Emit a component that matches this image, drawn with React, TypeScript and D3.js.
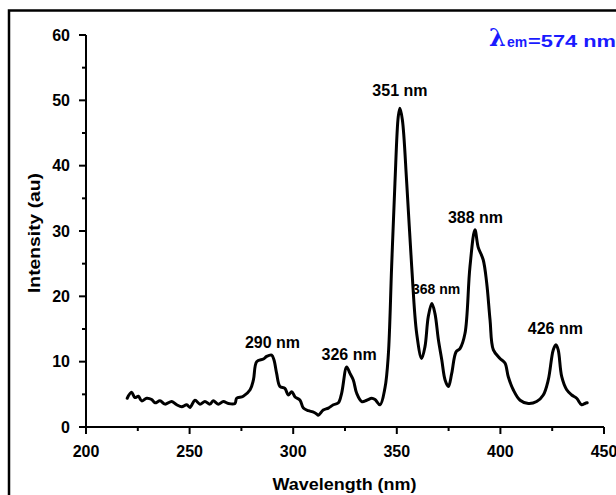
import React from "react";
import * as d3 from "d3";

const wavelength = [
  219.9, 222.0, 223.6, 225.3, 226.9, 229.3, 231.7, 233.3, 235.7, 238.1,
  241.4, 243.8, 246.2, 248.6, 250.2, 252.6, 255.0, 257.4, 259.8, 261.4,
  263.8, 266.3, 268.7, 271.9, 272.7, 275.9, 279.2, 280.8, 282.4, 285.6,
  287.2, 289.6, 290.7, 292.0, 293.6, 296.0, 297.6, 299.3, 300.9, 303.3,
  304.9, 307.3, 309.5, 311.3, 312.1, 314.5, 317.0, 319.4, 321.8, 323.4,
  325.8, 327.4, 329.0, 330.6, 333.1, 335.5, 337.9, 339.5, 341.9, 344.3,
  345.9, 347.5, 349.1, 350.7, 351.5, 352.7, 354.8, 357.2, 359.6, 362.0,
  363.6, 365.2, 366.9, 368.4, 370.1, 371.7, 373.3, 374.9, 376.5, 378.6,
  380.5, 382.9, 385.3, 387.7, 389.3, 391.7, 393.4, 395.0, 396.6, 399.8,
  402.2, 403.8, 406.2, 409.5, 413.5, 417.5, 420.7, 423.1, 425.5, 426.8,
  427.9, 429.6, 432.0, 434.4, 436.8, 439.2, 440.8, 441.9,
];

const intensity = [
  4.4, 5.3, 4.5, 4.7, 4.0, 4.4, 4.2, 3.7, 4.0, 3.5,
  3.9, 3.4, 3.1, 3.4, 3.0, 4.1, 3.5, 3.9, 3.5, 4.0,
  3.5, 3.9, 3.6, 3.6, 4.4, 4.7, 5.7, 7.2, 10.0, 10.4,
  10.8, 11.0, 10.3, 8.2, 6.2, 5.9, 4.9, 5.4, 4.6, 4.1,
  2.9, 2.5, 2.3, 2.0, 1.8, 2.6, 2.9, 3.4, 3.7, 5.2,
  9.2, 8.2, 7.2, 5.2, 3.9, 4.1, 4.4, 4.2, 3.4, 6.0,
  11.0, 24.5, 37.3, 47.5, 48.8, 47.0, 37.3, 24.5, 14.3, 10.5,
  12.3, 16.9, 18.9, 17.4, 13.3, 10.3, 7.2, 6.2, 8.2, 11.5,
  12.0, 14.3, 24.5, 30.2, 27.5, 25.6, 22.0, 16.4, 11.8, 10.5,
  9.8, 7.7, 5.7, 4.1, 3.6, 3.9, 4.9, 7.2, 11.8, 12.6,
  11.8, 7.7, 5.7, 4.9, 4.4, 3.4, 3.6, 3.7,
];

const xTicks = [200, 250, 300, 350, 400, 450];
const xMinor = [225, 275, 325, 375, 425];
const yTicks = [0, 10, 20, 30, 40, 50, 60];
const yMinor = [5, 15, 25, 35, 45, 55];

const peakLabels = ["290 nm", "326 nm", "351 nm", "368 nm", "388 nm", "426 nm"];
const peakX = [290, 327, 351.5, 369, 388, 426.5];
const peakY = [12.1, 10.3, 50.6, 20.4, 31.3, 14.2];
const peakSize = [16, 16, 16, 14, 16, 16];

const FONT = "'Liberation Sans', Arial, sans-serif";

export default function App() {
  const x = d3.scaleLinear().domain([200, 450]).range([86, 604]);
  const y = d3.scaleLinear().domain([0, 60]).range([427, 35]);
  const pts = wavelength.map((w, i) => [w, intensity[i]] as [number, number]);
  const line = d3
    .line<[number, number]>()
    .x((d) => x(d[0]))
    .y((d) => y(d[1]))
    .curve(d3.curveCatmullRom.alpha(0.5));

  return (
    <svg
      width={616}
      height={495}
      style={{ position: "absolute", left: 0, top: 0, background: "#fff" }}
    >
      <rect x={0} y={0} width={616} height={495} fill="#fff" />
      <rect x={9} y={10.5} width={650} height={520} fill="none" stroke="#000" strokeWidth={2.5} />

      {/* axes */}
      <line x1={x(200)} x2={x(450)} y1={y(0)} y2={y(0)} stroke="#000" strokeWidth={2} />
      <line x1={x(200)} x2={x(200)} y1={y(0)} y2={y(60)} stroke="#000" strokeWidth={2} />

      {xTicks.map((t) => (
        <g key={"xt" + t}>
          <line x1={x(t)} x2={x(t)} y1={y(0)} y2={y(0) + 7} stroke="#000" strokeWidth={2} />
          <text
            x={x(t)}
            y={456.5}
            textAnchor="middle"
            fontFamily={FONT}
            fontWeight="bold"
            fontSize={16}
          >
            {t}
          </text>
        </g>
      ))}
      {xMinor.map((t) => (
        <line key={"xm" + t} x1={x(t)} x2={x(t)} y1={y(0)} y2={y(0) + 4} stroke="#000" strokeWidth={2} />
      ))}
      {yTicks.map((t) => (
        <g key={"yt" + t}>
          <line x1={x(200) - 7} x2={x(200)} y1={y(t)} y2={y(t)} stroke="#000" strokeWidth={2} />
          <text
            x={70}
            y={y(t)}
            dy="0.36em"
            textAnchor="end"
            fontFamily={FONT}
            fontWeight="bold"
            fontSize={16}
          >
            {t}
          </text>
        </g>
      ))}
      {yMinor.map((t) => (
        <line key={"ym" + t} x1={x(200) - 4} x2={x(200)} y1={y(t)} y2={y(t)} stroke="#000" strokeWidth={2} />
      ))}

      {/* axis titles */}
      <text
        x={344.5}
        y={490}
        textAnchor="middle"
        fontFamily={FONT}
        fontWeight="bold"
        fontSize={16}
        textLength={144}
        lengthAdjust="spacingAndGlyphs"
      >
        Wavelength (nm)
      </text>
      <text
        transform="translate(40,233) rotate(-90)"
        textAnchor="middle"
        fontFamily={FONT}
        fontWeight="bold"
        fontSize={16}
        textLength={120}
        lengthAdjust="spacingAndGlyphs"
      >
        Intensity (au)
      </text>

      {/* spectrum */}
      <path
        d={line(pts) || ""}
        fill="none"
        stroke="#000"
        strokeWidth={3}
        strokeLinejoin="round"
        strokeLinecap="round"
      />

      {/* peak annotations */}
      {peakLabels.map((l, i) => (
        <text
          key={l}
          x={x(peakX[i])}
          y={y(peakY[i])}
          textAnchor="middle"
          fontFamily={FONT}
          fontWeight="bold"
          fontSize={peakSize[i]}
        >
          {l}
        </text>
      ))}

      {/* excitation label */}
      <text
        x={489}
        y={46}
        fill="#1a1aff"
        fontSize={24}
        fontFamily="'DejaVu Serif', 'Liberation Serif', serif"
        fontWeight="bold"
      >
        λ
      </text>
      <text x={507} y={47} fill="#1a1aff" fontWeight="bold" fontFamily={FONT} fontSize={14}>
        em
      </text>
      <text
        x={528}
        y={47}
        fill="#1a1aff"
        fontWeight="bold"
        fontFamily={FONT}
        fontSize={17}
        textLength={88}
        lengthAdjust="spacingAndGlyphs"
      >
        =574 nm
      </text>
    </svg>
  );
}
